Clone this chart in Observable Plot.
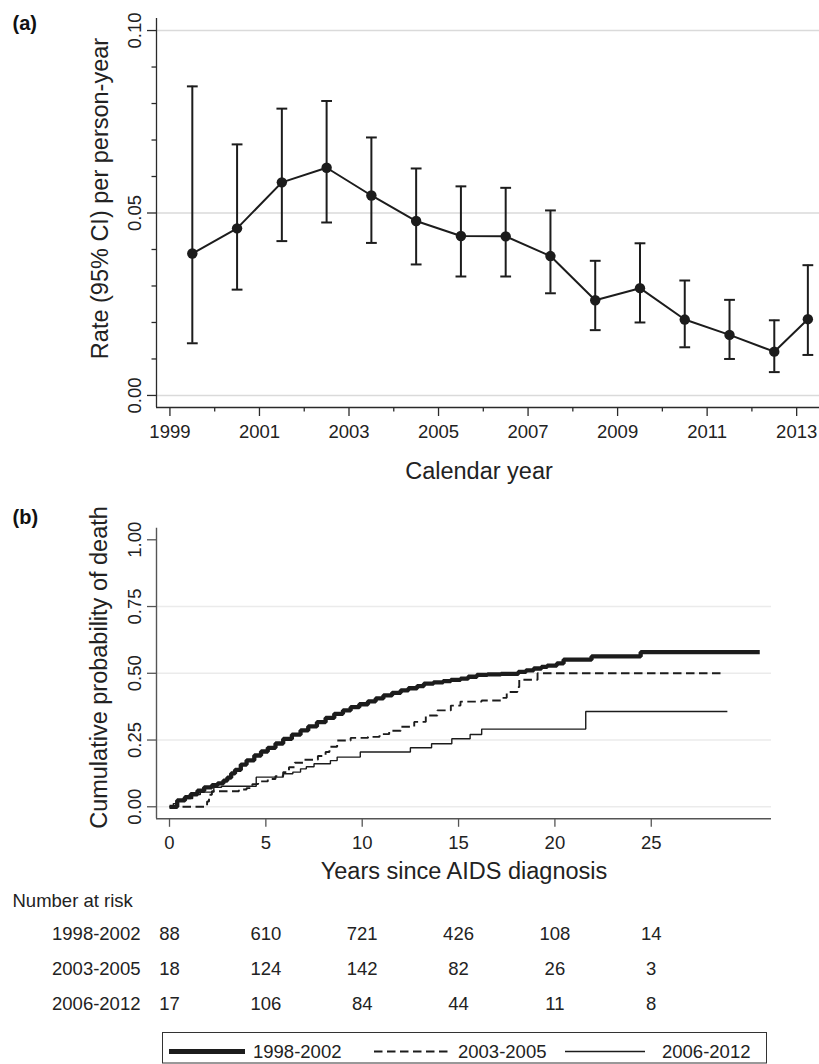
<!DOCTYPE html>
<html>
<head>
<meta charset="utf-8">
<script src="https://cdn.jsdelivr.net/npm/d3@7"></script>
<script src="https://cdn.jsdelivr.net/npm/@observablehq/plot@0.6"></script>
<style>
html, body { margin: 0; padding: 0; background: #fff; }
#root { position: relative; width: 819px; height: 1064px; overflow: hidden; background: #fff;
  font-family: "Liberation Sans", Arial, Helvetica, sans-serif; color: #222; }
#root > svg { position: absolute; left: 0; }
</style>
</head>
<body>
<div id="root"></div>
<script>
// ---------- Panel (a) data ----------
const rateYears = [1999.5, 2000.5, 2001.5, 2002.5, 2003.5, 2004.5, 2005.5, 2006.5, 2007.5, 2008.5, 2009.5, 2010.5, 2011.5, 2012.5, 2013.25];
const rateValue = [0.0389, 0.0458, 0.0584, 0.0624, 0.0548, 0.0478, 0.0437, 0.0436, 0.0382, 0.0261, 0.0294, 0.0208, 0.0166, 0.0120, 0.0209];
const rateLower = [0.0143, 0.0290, 0.0423, 0.0474, 0.0418, 0.0359, 0.0326, 0.0326, 0.0280, 0.0179, 0.0200, 0.0132, 0.0100, 0.0064, 0.0111];
const rateUpper = [0.0847, 0.0688, 0.0786, 0.0807, 0.0707, 0.0622, 0.0573, 0.0569, 0.0507, 0.0369, 0.0417, 0.0315, 0.0262, 0.0206, 0.0357];
const rateTicks = [0, 0.05, 0.10];
const rateMinorTicks = [0.01, 0.02, 0.03, 0.04, 0.06, 0.07, 0.08, 0.09];
const yearTicks = [1999, 2001, 2003, 2005, 2007, 2009, 2011, 2013];
const yearMinorTicks = [2000, 2002, 2004, 2006, 2008, 2010, 2012];
const rateXDomain = [1998.70, 2013.51];
const rateYDomain = [-0.0033, 0.1033];

// ---------- Panel (b) data ----------
const groups = ["1998-2002", "2003-2005", "2006-2012"];
const km1T = [0, 0.4, 0.8, 1.1, 1.45, 1.8, 2.2, 2.5, 2.8, 3.0, 3.2, 3.4, 3.7, 4.0, 4.4, 4.75, 5.1, 5.5, 5.9, 6.35, 6.8, 7.2, 7.65, 8.1, 8.55, 9.0, 9.4, 9.85, 10.3, 10.7, 11.1, 11.55, 12.0, 12.4, 12.85, 13.2, 13.7, 14.2, 14.6, 15.1, 15.5, 15.95, 16.5, 17.2, 18.1, 18.5, 18.9, 19.3, 19.6, 20.1, 20.45, 21.9, 24.45, 30.63];
const km1P = [0, 0.024, 0.036, 0.047, 0.060, 0.073, 0.081, 0.088, 0.098, 0.109, 0.125, 0.138, 0.158, 0.174, 0.192, 0.207, 0.221, 0.237, 0.254, 0.270, 0.286, 0.301, 0.317, 0.333, 0.348, 0.361, 0.373, 0.384, 0.395, 0.406, 0.417, 0.427, 0.436, 0.444, 0.452, 0.461, 0.466, 0.471, 0.475, 0.480, 0.487, 0.494, 0.496, 0.498, 0.505, 0.511, 0.518, 0.524, 0.529, 0.537, 0.551, 0.563, 0.579, 0.579];
const km2T = [0, 1.95, 2.05, 2.2, 3.6, 4.0, 4.3, 4.6, 5.1, 5.5, 5.9, 6.2, 6.5, 7.0, 7.7, 8.1, 8.3, 8.7, 9.4, 10.3, 10.9, 11.4, 12.0, 12.7, 13.3, 13.9, 14.6, 15.1, 16.2, 17.2, 17.5, 18.05, 18.15, 19.1, 28.6];
const km2P = [0, 0.020, 0.045, 0.058, 0.065, 0.070, 0.085, 0.095, 0.104, 0.115, 0.130, 0.148, 0.165, 0.176, 0.190, 0.205, 0.225, 0.248, 0.258, 0.262, 0.272, 0.285, 0.300, 0.318, 0.342, 0.361, 0.379, 0.394, 0.398, 0.408, 0.430, 0.448, 0.476, 0.500, 0.500];
const km3T = [0, 0.2, 0.45, 0.7, 1.2, 1.6, 2.3, 2.7, 4.5, 5.9, 6.4, 6.8, 7.1, 7.5, 8.35, 8.7, 9.9, 12.5, 13.6, 14.65, 15.6, 16.2, 21.6, 28.95];
const km3P = [0, 0.012, 0.022, 0.031, 0.046, 0.055, 0.073, 0.077, 0.111, 0.124, 0.130, 0.142, 0.150, 0.161, 0.173, 0.186, 0.205, 0.221, 0.236, 0.255, 0.271, 0.291, 0.357, 0.357];
const probTicks = [0, 0.25, 0.5, 0.75, 1];
const probGrid = [0, 0.25, 0.5, 0.75];
const timeTicks = [0, 5, 10, 15, 20, 25];
const kmXDomain = [-0.675, 31.24];
const kmYDomain = [-0.045, 1.0434];

// ---------- Number at risk ----------
const riskTimes = [0, 5, 10, 15, 20, 25];
const risk1998 = [88, 610, 721, 426, 108, 14];
const risk2003 = [18, 124, 142, 82, 26, 3];
const risk2006 = [17, 106, 84, 44, 11, 8];

// ---------- styling ----------
const FONT = '"Liberation Sans", Arial, Helvetica, sans-serif';
const INK = "#1c1c1c";
const TEXT = "#222";
const root = document.getElementById("root");
const baseStyle = {fontFamily: FONT, fontSize: "18.5px", color: TEXT, background: "transparent", overflow: "visible"};
const capSymbol = {draw(ctx, size) { const r = Math.sqrt(size / Math.PI); ctx.moveTo(-r, 0); ctx.lineTo(r, 0); }};
const seriesStyle = {
  "1998-2002": {strokeWidth: 4.3, dash: null},
  "2003-2005": {strokeWidth: 1.9, dash: "8.5,4.5"},
  "2006-2012": {strokeWidth: 1.4, dash: null}
};

// ---------- Panel (a) ----------
const rateData = rateYears.map((x, i) => ({x, v: rateValue[i], lo: rateLower[i], hi: rateUpper[i]}));
const AX_A = "#2a2a2a";
const panelA = Plot.plot({
  width: 819, height: 490,
  marginLeft: 156, marginRight: 0, marginTop: 18, marginBottom: 83,
  style: baseStyle,
  x: {domain: rateXDomain},
  y: {domain: rateYDomain},
  marks: [
    Plot.gridY(rateTicks, {stroke: "#dadada", strokeOpacity: 1, strokeWidth: 1.6}),
    Plot.ruleX([rateXDomain[0]], {stroke: AX_A, strokeWidth: 1.3}),
    Plot.ruleY([rateYDomain[0]], {stroke: AX_A, strokeWidth: 1.3}),
    Plot.axisY({ticks: rateTicks, tickSize: 9, tickFormat: () => "", fill: "none", stroke: AX_A, strokeWidth: 1.3, label: null}),
    Plot.axisY({ticks: rateMinorTicks, tickSize: 4.5, tickFormat: () => "", fill: "none", stroke: AX_A, strokeWidth: 1.3, label: null}),
    Plot.text(rateTicks, {y: d => d, frameAnchor: "left", rotate: -90, textAnchor: "middle", lineAnchor: "bottom", dx: -16, text: d => d3.format(".2f")(d), fill: TEXT}),
    Plot.axisX({ticks: yearTicks, tickSize: 9, tickPadding: 8, tickFormat: d => String(d), stroke: AX_A, strokeWidth: 1.3, fill: TEXT, label: null}),
    Plot.axisX({ticks: yearMinorTicks, tickSize: 4.5, tickFormat: () => "", fill: "none", stroke: AX_A, strokeWidth: 1.3, label: null}),
    Plot.ruleX(rateData, {x: "x", y1: "lo", y2: "hi", stroke: INK, strokeWidth: 2}),
    Plot.dot(rateData, {x: "x", y: "lo", symbol: capSymbol, r: 5.4, stroke: INK, strokeWidth: 2}),
    Plot.dot(rateData, {x: "x", y: "hi", symbol: capSymbol, r: 5.4, stroke: INK, strokeWidth: 2}),
    Plot.line(rateData, {x: "x", y: "v", stroke: INK, strokeWidth: 2}),
    Plot.dot(rateData, {x: "x", y: "v", r: 5.2, fill: INK, stroke: "none"}),
    Plot.text(["Rate (95% CI) per person-year"], {text: d => d, frameAnchor: "left", rotate: -90, textAnchor: "middle", lineAnchor: "bottom", dx: -49, dy: -14.5, fontSize: 23.5, fill: TEXT}),
    Plot.text(["Calendar year"], {text: d => d, frameAnchor: "bottom", textAnchor: "middle", lineAnchor: "bottom", dx: -9, dy: 71.5, fontSize: 23.5, fill: TEXT}),
    Plot.text(["(a)"], {text: d => d, frameAnchor: "top-left", textAnchor: "start", lineAnchor: "bottom", dx: -144, dy: 11, fontSize: 20, fontWeight: "bold", fill: "#111"})
  ]
});
panelA.style.top = "0px";
root.appendChild(panelA);

// ---------- Panel (b) ----------
const kmData = [
  ...km1T.map((t, i) => ({group: groups[0], t, p: km1P[i]})),
  ...km2T.map((t, i) => ({group: groups[1], t, p: km2P[i]})),
  ...km3T.map((t, i) => ({group: groups[2], t, p: km3P[i]}))
];
const AX_B = "#555";
const panelB = Plot.plot({
  width: 819, height: 400,
  marginLeft: 156, marginRight: 48, marginTop: 37.7, marginBottom: 71.7,
  style: baseStyle,
  x: {domain: kmXDomain},
  y: {domain: kmYDomain},
  marks: [
    Plot.gridY(probGrid, {stroke: "#ebebeb", strokeOpacity: 1, strokeWidth: 1.6}),
    Plot.ruleX([kmXDomain[0]], {stroke: AX_B, strokeWidth: 1.4}),
    Plot.ruleY([kmYDomain[0]], {stroke: AX_B, strokeWidth: 1.4}),
    Plot.axisY({ticks: probTicks, tickSize: 9, tickFormat: () => "", fill: "none", stroke: AX_B, strokeWidth: 1.3, label: null}),
    Plot.text(probTicks, {y: d => d, frameAnchor: "left", rotate: -90, textAnchor: "middle", lineAnchor: "bottom", dx: -16, text: d => d3.format(".2f")(d), fill: TEXT}),
    Plot.axisX({ticks: timeTicks, tickSize: 8.5, tickPadding: 8.5, tickFormat: d => String(d), stroke: AX_B, strokeWidth: 1.3, fill: TEXT, label: null}),
    ...groups.slice().reverse().map(g => Plot.line(kmData.filter(d => d.group === g), {
      x: "t", y: "p", curve: "step-after", stroke: INK,
      strokeWidth: seriesStyle[g].strokeWidth, strokeDasharray: seriesStyle[g].dash,
      strokeLinejoin: "miter", strokeLinecap: "butt"
    })),
    Plot.text(["Cumulative probability of death"], {text: d => d, frameAnchor: "left", rotate: -90, textAnchor: "middle", lineAnchor: "bottom", dx: -50, dy: -6, fontSize: 23.5, fill: TEXT}),
    Plot.text(["Years since AIDS diagnosis"], {text: d => d, frameAnchor: "bottom", textAnchor: "middle", lineAnchor: "bottom", dy: 60, fontSize: 23.5, fill: TEXT}),
    Plot.text(["(b)"], {text: d => d, frameAnchor: "top-left", textAnchor: "start", lineAnchor: "bottom", dx: -144, dy: -4, fontSize: 20, fontWeight: "bold", fill: "#111"})
  ]
});
panelB.style.top = "490px";
root.appendChild(panelB);

// ---------- Risk table ----------
const riskRows = [
  ...riskTimes.map((t, i) => ({group: groups[0], t, n: risk1998[i]})),
  ...riskTimes.map((t, i) => ({group: groups[1], t, n: risk2003[i]})),
  ...riskTimes.map((t, i) => ({group: groups[2], t, n: risk2006[i]}))
];
const riskPlot = Plot.plot({
  width: 819, height: 135,
  marginLeft: 156, marginRight: 48, marginTop: 43, marginBottom: 21,
  style: baseStyle,
  x: {domain: kmXDomain, axis: null},
  y: {type: "point", domain: groups, padding: 0, axis: null},
  marks: [
    Plot.text(riskRows, {x: "t", y: "group", text: d => String(d.n), textAnchor: "middle", fill: TEXT}),
    Plot.text(groups, {y: d => d, frameAnchor: "left", text: d => d, textAnchor: "end", dx: -16, fill: TEXT}),
    Plot.text(["Number at risk"], {text: d => d, frameAnchor: "top-left", textAnchor: "start", lineAnchor: "bottom", dx: -144, dy: -26.3, fill: TEXT})
  ]
});
riskPlot.style.top = "890px";
root.appendChild(riskPlot);

// ---------- Legend ----------
const legendItems = [
  {name: groups[0], x1: 169, x2: 245, tx: 253},
  {name: groups[1], x1: 374, x2: 452, tx: 458},
  {name: groups[2], x1: 565, x2: 645, tx: 662}
];
const legend = d3.create("svg").attr("width", 819).attr("height", 34)
  .style("top", "1030px").style("font-family", FONT).style("font-size", "18.5px");
legend.append("rect").attr("x", 162.5).attr("y", 2.5).attr("width", 604).attr("height", 30.5)
  .attr("fill", "none").attr("stroke", "#333").attr("stroke-width", 1);
for (const it of legendItems) {
  const st = seriesStyle[it.name];
  legend.append("line").attr("x1", it.x1).attr("x2", it.x2).attr("y1", 21.5).attr("y2", 21.5)
    .attr("stroke", INK).attr("stroke-width", it.name === groups[0] ? 5 : st.strokeWidth)
    .attr("stroke-dasharray", st.dash);
  legend.append("text").attr("x", it.tx).attr("y", 28).attr("fill", TEXT).text(it.name);
}
root.appendChild(legend.node());
</script>
</body>
</html>
